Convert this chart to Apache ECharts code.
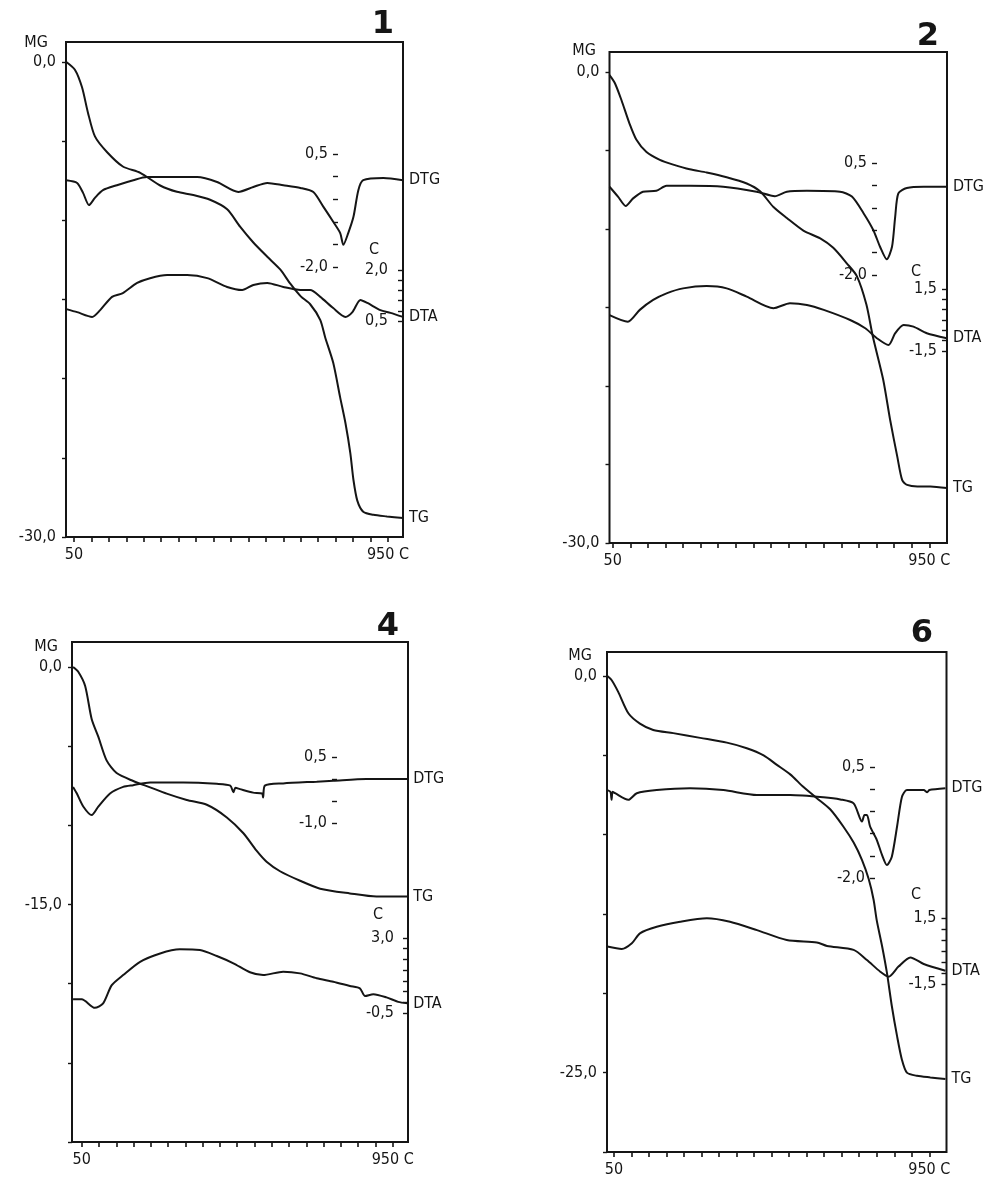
<!DOCTYPE html>
<html>
<head>
<meta charset="utf-8">
<script src="https://cdn.jsdelivr.net/npm/echarts@6/dist/echarts.min.js"></script>
<style>
  html, body { margin: 0; padding: 0; background: #fff; }
  #chart { width: 994px; height: 1181px; }
</style>
</head>
<body>
<div id="chart"></div>
<script>
// ---- data: [temperature C, value] ----
// panel 1
const p1TG = [[28,0],[53,-0.5],[73,-1.6],[90,-3.2],[110,-4.7],[145,-5.7],[190,-6.6],[240,-7.0],[297,-7.8],[345,-8.2],[392,-8.4],[440,-8.7],[489,-9.3],[526,-10.4],[564,-11.4],[604,-12.3],[641,-13.1],[670,-14.0],[700,-14.8],[727,-15.3],[756,-16.3],[770,-17.4],[793,-19.0],[813,-21.2],[828,-22.8],[842,-24.7],[851,-26.4],[862,-27.7],[879,-28.4],[908,-28.6],[947,-28.7],[993,-28.8]]
const p1DTG = [[28,-0.08],[59,-0.14],[76,-0.36],[93,-0.63],[110,-0.47],[133,-0.30],[173,-0.19],[220,-0.08],[259,-0.01],[317,-0.01],[403,-0.01],[460,-0.12],[521,-0.34],[564,-0.23],[604,-0.14],[650,-0.19],[699,-0.25],[736,-0.34],[765,-0.67],[793,-1.0],[813,-1.25],[822,-1.51],[836,-1.25],[851,-0.89],[865,-0.30],[879,-0.08],[937,-0.03],[993,-0.08]]
const p1DTA = [[28,0.85],[59,0.76],[102,0.62],[125,0.82],[159,1.21],[190,1.32],[231,1.62],[268,1.76],[317,1.85],[374,1.85],[432,1.76],[489,1.50],[532,1.41],[564,1.56],[604,1.62],[650,1.50],[699,1.41],[727,1.41],[756,1.21],[793,0.88],[828,0.62],[848,0.76],[871,1.12],[891,1.03],[928,0.82],[957,0.74],[993,0.62]]

// panel 2
const p2TG = [[41,-0.2],[56,-0.7],[75,-1.8],[98,-3.3],[117,-4.3],[146,-5.1],[184,-5.6],[222,-5.9],[269,-6.2],[317,-6.4],[374,-6.7],[431,-7.1],[469,-7.6],[507,-8.6],[545,-9.3],[592,-10.1],[640,-10.6],[677,-11.2],[716,-12.2],[744,-13.0],[771,-14.8],[790,-16.9],[819,-19.6],[839,-22.2],[859,-24.5],[873,-26.0],[887,-26.3],[916,-26.4],[953,-26.4],[1000,-26.5]]
const p2DTG = [[41,-0.03],[65,-0.25],[87,-0.46],[108,-0.29],[136,-0.14],[174,-0.12],[203,-0.01],[269,-0.01],[364,-0.03],[459,-0.14],[511,-0.24],[545,-0.14],[602,-0.12],[696,-0.14],[730,-0.25],[763,-0.62],[791,-1.0],[810,-1.37],[829,-1.65],[844,-1.37],[853,-0.70],[862,-0.18],[886,-0.06],[934,-0.03],[1000,-0.03]]
const p2DTA = [[41,0.24],[93,-0.08],[127,0.49],[165,0.97],[203,1.29],[250,1.53],[317,1.64],[374,1.53],[431,1.13],[507,0.57],[554,0.81],[602,0.73],[650,0.49],[725,0.0],[768,-0.40],[801,-0.88],[834,-1.21],[853,-0.64],[877,-0.24],[905,-0.32],[943,-0.64],[1000,-0.88]]

// panel 4
const p4TG = [[25,0],[40,-0.3],[60,-1.2],[79,-3.3],[98,-4.4],[122,-5.9],[151,-6.7],[199,-7.2],[248,-7.6],[296,-8.0],[354,-8.4],[412,-8.7],[470,-9.5],[518,-10.5],[556,-11.6],[585,-12.3],[624,-12.9],[682,-13.5],[740,-14.0],[826,-14.3],[903,-14.5],[992,-14.5]]
const p4DTG = [[25,-0.18],[36,-0.33],[55,-0.63],[79,-0.82],[98,-0.63],[132,-0.33],[170,-0.18],[199,-0.14],[248,-0.08],[344,-0.08],[441,-0.11],[480,-0.15],[489,-0.30],[495,-0.20],[508,-0.23],[546,-0.31],[572,-0.33],[575,-0.42],[580,-0.15],[633,-0.10],[730,-0.06],[778,-0.04],[874,0.0],[992,0.0]]
const p4DTA = [[25,0.14],[50,0.14],[88,-0.26],[112,-0.05],[137,0.80],[170,1.27],[219,1.89],[277,2.28],[334,2.47],[392,2.44],[441,2.16],[489,1.82],[537,1.40],[575,1.27],[633,1.43],[682,1.35],[730,1.12],[778,0.96],[826,0.76],[855,0.65],[870,0.29],[894,0.38],[932,0.23],[966,0.02],[992,-0.05]]

// panel 6
const p6TG = [[31,0],[43,-0.25],[62,-1.0],[91,-2.35],[124,-3.0],[162,-3.4],[219,-3.6],[296,-3.9],[372,-4.2],[429,-4.55],[477,-5.0],[515,-5.6],[553,-6.2],[591,-7.0],[629,-7.7],[667,-8.4],[705,-9.5],[734,-10.5],[758,-11.6],[777,-12.8],[791,-14.1],[800,-15.4],[815,-17.0],[829,-18.7],[843,-20.8],[858,-22.7],[872,-24.2],[886,-25.0],[915,-25.2],[953,-25.3],[996,-25.4]]
const p6DTG = [[31,-0.02],[40,-0.06],[43,-0.24],[46,-0.06],[53,-0.09],[91,-0.24],[115,-0.09],[172,-0.02],[267,0.02],[362,-0.02],[458,-0.13],[553,-0.13],[648,-0.18],[696,-0.23],[734,-0.32],[758,-0.73],[765,-0.58],[772,-0.58],[781,-0.84],[800,-1.14],[815,-1.48],[829,-1.71],[843,-1.52],[858,-0.84],[872,-0.17],[886,-0.02],[934,-0.02],[944,-0.07],[950,-0.02],[996,0.02]]
const p6DTA = [[31,0.20],[72,0.09],[101,0.35],[124,0.80],[172,1.10],[239,1.33],[315,1.49],[381,1.33],[458,0.95],[543,0.50],[629,0.39],[658,0.23],[734,0.05],[772,-0.41],[810,-0.94],[834,-1.17],[862,-0.71],[896,-0.29],[934,-0.59],[996,-0.90]]

// ---- tick values and labels ----
const tempTicks = [50,100,150,200,250,300,350,400,450,500,550,600,650,700,750,800,850,900,950]
const tempLabels = [50, 950]
const mgTicks = [0,-5,-10,-15,-20,-25,-30]
const mgLabels = [[0,-30],[0,-30],[0,-15],[0,-25]]
const dtgTicks = [[0.5,0,-0.5,-1,-1.5,-2],[0.5,0,-0.5,-1,-1.5,-2],[0.5,0,-0.5,-1],[0.5,0,-0.5,-1,-1.5,-2]]
const dtgLabels = [[0.5,-2],[0.5,-2],[0.5,-1],[0.5,-2]]
const dtaTicks = [[2,1.7,1.4,1.1,0.8,0.5],[1.5,1,0.5,0,-0.5,-1,-1.5],[3,2.5,2,1.5,1,0.5,0,-0.5],[1.5,1,0.5,0,-0.5,-1,-1.5]]
const dtaLabels = [[2,0.5],[1.5,-1.5],[3,-0.5],[1.5,-1.5]]
const panelNames = ['1','2','4','6']
const curves = [[p1TG,p1DTG,p1DTA],[p2TG,p2DTG,p2DTA],[p4TG,p4DTG,p4DTA],[p6TG,p6DTG,p6DTA]]

// 页面布局 (像素): 框, 50/950 刻度位置, 各刻度尺的首末标签位置
const layouts = [
  { box:[66,42,403,537],   t50:74,    t950:388,   mg:[62,537],   dtg:[154,267], dtgX:338, dta:[270,321],  dtaMargin:15, title:[383,25],  mgName:[36,43],  cName:[374,250] },
  { box:[609.5,52,947,543], t50:612.7, t950:929.3, mg:[72,543],   dtg:[163,275], dtgX:877, dta:[289,351],  dtaMargin:10, title:[928,37],  mgName:[584,51], cName:[916,272] },
  { box:[72,642,408,1142], t50:81.7,  t950:392.7, mg:[667,1142], dtg:[757,823], dtgX:337, dta:[938,1013], dtaMargin:14, title:[388,627], mgName:[46,647], cName:[378,915] },
  { box:[607,652,946.5,1152], t50:614, t950:929.3, mg:[676,1152], dtg:[767,878], dtgX:875, dta:[918,984],  dtaMargin:10, title:[922,634], mgName:[580,656], cName:[916,895] }
]

const FONT = "'DejaVu Sans Condensed', 'DejaVu Sans', sans-serif"
const INK = '#151515'

// 由两个参考点求轴的 min / max
function span(v1, y1, v2, y2, top, bottom) {
  const k = (v1 - v2) / (y2 - y1)
  return { max: v1 + (y1 - top) * k, min: v1 - (bottom - y1) * k }
}
const comma = v => (Math.round(v * 10) / 10).toFixed(1).replace('.', ',')

const grids = [], xAxes = [], yAxes = [], series = [], graphics = []

layouts.forEach((L, i) => {
  const [left, top, right, bottom] = L.box
  grids.push({
    left: left, top: top, width: right - left, height: bottom - top,
    show: true, borderColor: INK, borderWidth: 2, backgroundColor: 'transparent',
    containLabel: false, outerBoundsMode: 'none'
  })

  const k = 900 / (L.t950 - L.t50)
  xAxes.push({
    type: 'value', gridIndex: i, position: 'bottom',
    min: 50 - (L.t50 - left) * k, max: 950 + (right - L.t950) * k,
    axisLine: { show: false, onZero: false }, splitLine: { show: false },
    axisTick: { show: true, length: 5, lineStyle: { color: INK, width: 1.6 }, customValues: tempTicks },
    axisLabel: { color: INK, fontFamily: FONT, fontSize: 16, margin: 10, customValues: tempLabels,
      formatter: v => v === 950 ? '950 C' : String(v) }
  })

  const mg = span(0, L.mg[0], -30, L.mg[1], top, bottom)
  yAxes.push({
    type: 'value', gridIndex: i, position: 'left', min: mg.min, max: mg.max,
    axisLine: { show: false, onZero: false }, splitLine: { show: false },
    axisTick: { show: true, length: 4, lineStyle: { color: INK, width: 1.4 }, customValues: mgTicks },
    axisLabel: { color: INK, fontFamily: FONT, fontSize: 16, margin: 10, customValues: mgLabels[i], formatter: comma }
  })

  const dl = dtgLabels[i]
  const dtg = span(dl[0], L.dtg[0], dl[dl.length - 1], L.dtg[1], top, bottom)
  yAxes.push({
    type: 'value', gridIndex: i, position: 'left', offset: left - L.dtgX, min: dtg.min, max: dtg.max,
    axisLine: { show: false, onZero: false }, splitLine: { show: false },
    axisTick: { show: true, length: 5, lineStyle: { color: INK, width: 1.4 }, customValues: dtgTicks[i] },
    axisLabel: { color: INK, fontFamily: FONT, fontSize: 16, margin: 10, customValues: dl, formatter: comma }
  })

  const al = dtaLabels[i]
  const dta = span(al[0], L.dta[0], al[al.length - 1], L.dta[1], top, bottom)
  yAxes.push({
    type: 'value', gridIndex: i, position: 'right', min: dta.min, max: dta.max,
    axisLine: { show: false, onZero: false }, splitLine: { show: false },
    axisTick: { show: true, inside: true, length: 5, lineStyle: { color: INK, width: 1.4 }, customValues: dtaTicks[i] },
    axisLabel: { inside: true, color: INK, fontFamily: FONT, fontSize: 16, margin: L.dtaMargin, customValues: al, formatter: comma }
  })

  ;['TG', 'DTG', 'DTA'].forEach((name, j) => {
    series.push({
      type: 'line', name: name, xAxisIndex: i, yAxisIndex: i * 3 + j,
      data: curves[i][j], showSymbol: false, smooth: 0.25, silent: true,
      lineStyle: { color: INK, width: 2 },
      endLabel: { show: true, formatter: p => p.seriesName, distance: 6,
        color: INK, fontFamily: FONT, fontSize: 16 }
    })
  })

  // 编号, MG, C
  graphics.push(
    { type: 'text', x: L.title[0], y: L.title[1],
      style: { text: panelNames[i], font: "bold 32px 'DejaVu Sans', sans-serif", fill: INK,
        align: 'center', verticalAlign: 'middle', textAlign: 'center', textVerticalAlign: 'middle' } },
    { type: 'text', x: L.mgName[0], y: L.mgName[1],
      style: { text: 'MG', font: "16px " + FONT, fill: INK,
        align: 'center', verticalAlign: 'middle', textAlign: 'center', textVerticalAlign: 'middle' } },
    { type: 'text', x: L.cName[0], y: L.cName[1],
      style: { text: 'C', font: "16px " + FONT, fill: INK,
        align: 'center', verticalAlign: 'middle', textAlign: 'center', textVerticalAlign: 'middle' } }
  )
})

const myChart = echarts.init(document.getElementById('chart'))
myChart.setOption({
  animation: false,
  backgroundColor: '#fff',
  grid: grids,
  xAxis: xAxes,
  yAxis: yAxes,
  series: series,
  graphic: graphics
})
</script>
</body>
</html>
